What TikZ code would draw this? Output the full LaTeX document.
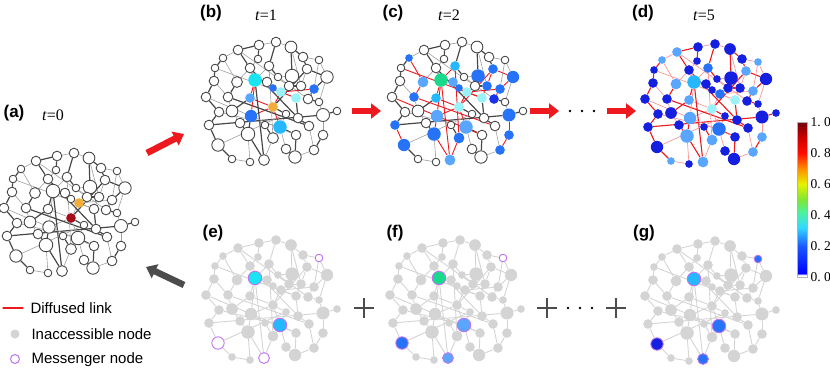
\documentclass[tikz,border=0pt]{standalone}
\usepackage{fontspec}
\setmainfont{Liberation Serif}
\setsansfont{Liberation Sans}
\usetikzlibrary{arrows.meta}
\pgfdeclarelayer{links}
\pgfsetlayers{links,main}

\definecolor{srcred}{rgb}{0.65,0.05,0.1}
\definecolor{vorange}{rgb}{0.95,0.68,0.22}
\definecolor{vcyan}{rgb}{0.1,0.9,0.95}
\definecolor{vlcyan}{rgb}{0.6,0.95,0.97}
\definecolor{vteal}{rgb}{0.1,0.85,0.55}
\definecolor{vsky}{rgb}{0.15,0.72,1.}
\definecolor{vlblue}{rgb}{0.35,0.65,1.}
\definecolor{vblue}{rgb}{0.15,0.45,0.97}
\definecolor{vdblue}{rgb}{0.1,0.2,0.92}
\definecolor{vdeep}{rgb}{0.08,0.12,0.88}
\definecolor{diffred}{rgb}{0.93,0.1,0.12}
\definecolor{msgviolet}{rgb}{0.75,0.45,0.95}
\definecolor{blocked}{rgb}{0.83,0.83,0.83}
\definecolor{linkgray}{rgb}{0.28,0.28,0.28}
\definecolor{arrowgray}{rgb}{0.3,0.3,0.3}

\pgfdeclareverticalshading{jetbar}{100bp}{rgb(0bp)=(1,1,1); rgb(25bp)=(1,1,1); rgb(25.6bp)=(1,1,1);
  rgb(26.2bp)=(0,0,1); rgb(35bp)=(0.1,0.35,1); rgb(41bp)=(0.2,0.85,1); rgb(46bp)=(0.3,0.95,0.6);
  rgb(50bp)=(0.5,0.9,0.2); rgb(55bp)=(0.9,0.95,0); rgb(60bp)=(1,0.55,0); rgb(65bp)=(1,0.05,0);
  rgb(70bp)=(0.8,0,0); rgb(75bp)=(0.45,0,0.05); rgb(100bp)=(0.45,0,0.05)}

% network: id/x/y/radius, relative to panel centre (px)
\def\netnodes{1/-12/-59/4.3, 2/5/-62/4.3, 3/20/-57/5.2, 4/-33/-54/4.3, 5/-48/-46/3.4,
  6/-13/-45/3.4, 7/-2/-38/4.3, 8/32/-47/4.3, 9/48/-44/3.4, 10/-56/-36/3.4, 11/-21/-36/4.3,
  12/36/-35/4.3, 13/21/-28/6, 14/7/-27/3.4, 15/56/-27/5.5, 16/-57/-23/4.3, 17/-34/-22/4.8,
  18/-16/-24/6, 19/-4/-22/4.3, 20/18/-18/4.3, 21/30/-18/4.3, 22/43/-15/4.3, 23/2/-16/3.4,
  24/10/-12/4.3, 25/-65/-7/4.3, 26/-43/-7/4.3, 27/-21/-6/4.3, 28/25/-6/4.3, 29/37/-5/4.3,
  30/48/-2/3.4, 31/2/3/4.3, 32/-52/8/4.3, 33/-39/7/5.2, 34/-20/12/5.5, 35/15/10/3.4,
  36/27/14/4.3, 37/52/11/5.8, 38/66/7/3.4, 39/-62/21/4.3, 40/-31/19/4.3, 41/-6/21/3.4,
  42/9/23/6, 43/38/22/4.3, 44/-23/30/6, 45/2/34/4.8, 46/25/31/4.3, 47/52/31/4.3,
  48/-53/41/5.5, 49/15/45/4.3, 50/43/46/4.3, 51/-39/55/3.4, 52/-21/58/3.4, 53/-7/56/4.8,
  54/24/53/5.5}
% links: from/to/kind (h = heavy, l = light)
\def\netedges{1/2/l, 1/4/h, 1/6/h, 2/3/l, 2/7/h, 3/8/h, 3/13/h, 4/5/l, 4/11/h, 5/10/h,
  5/17/l, 6/11/l, 7/14/h, 7/18/l, 8/9/l, 8/12/h, 9/15/l, 10/16/h, 11/18/h, 11/17/l,
  12/15/h, 12/21/l, 13/20/h, 13/14/l, 15/22/h, 15/30/l, 16/25/h, 16/26/l, 17/26/h,
  18/27/h, 18/19/l, 19/23/h, 20/24/l, 20/21/h, 21/28/l, 22/29/h, 23/24/l, 24/31/l,
  25/32/h, 26/33/l, 27/33/h, 27/31/l, 28/36/h, 29/30/h, 30/37/l, 31/35/h, 31/34/l,
  32/39/h, 33/40/l, 34/44/h, 34/41/l, 35/42/l, 36/43/h, 37/38/h, 37/47/l, 39/48/h,
  40/44/h, 41/45/h, 42/46/h, 42/49/l, 43/50/l, 44/52/l, 44/53/h, 45/53/l, 46/54/h,
  47/50/h, 48/51/h, 49/54/l, 50/54/l, 51/52/l, 39/37/h, 26/43/h, 18/53/h, 11/36/h,
  32/42/l, 10/28/l, 4/20/l, 7/45/l, 25/46/l, 48/35/l, 12/31/h, 3/21/l, 9/22/l, 14/29/l,
  24/28/l, 22/24/l, 18/34/l, 31/42/l}

\newcommand{\setcolours}[2]{%
  \foreach \i/\c in {#2}{\expandafter\xdef\csname nc#1-\i\endcsname{\c}}}
\newcommand{\setdiffused}[2]{%
  \foreach \i/\j in {#2}{\expandafter\gdef\csname dl#1-\i-\j\endcsname{}}}
\newcommand{\drawnet}[1]{%
  \foreach \i/\x/\y/\r in \netnodes {%
    \ifcsname nc#1-\i\endcsname
      \edef\fillc{\csname nc#1-\i\endcsname}%
      \node[colnode, minimum size=2.25*\r, fill=\fillc] (#1\i) at (\x,\y) {};
    \else
      \node[plainnode, minimum size=2.25*\r] (#1\i) at (\x,\y) {};
    \fi
  }
  \begin{pgfonlayer}{links}
    \foreach \i/\j/\w in \netedges {%
      \ifcsname dl#1-\i-\j\endcsname
        \draw[difflink] (#1\i) -- (#1\j);
      \else
        \draw[link\w] (#1\i) -- (#1\j);
      \fi
    }
  \end{pgfonlayer}
}

\setcolours{a}{24/vorange, 31/srcred}
\setcolours{b}{18/vcyan, 23/vblue, 24/vlcyan, 22/vblue, 27/vlblue, 28/vlcyan, 31/vorange, 34/vblue, 42/vsky}
\setdiffused{b}{18/27, 27/31, 31/34, 24/31, 23/24, 24/28, 22/24, 18/34, 31/42}
\setcolours{c}{5/vblue, 7/vsky, 12/vblue, 13/vblue, 15/vblue, 17/vlblue, 18/vteal, 19/vlblue,
  21/vblue, 22/vblue, 23/vblue, 24/vlcyan, 26/vblue, 27/vsky, 28/vlcyan, 29/vdblue, 31/vlcyan,
  34/vlblue, 37/vblue, 39/vblue, 42/vlblue, 44/vblue, 45/vblue, 47/vblue, 48/vblue, 50/vblue, 53/vlblue}
\setdiffused{c}{5/17, 7/18, 12/15, 12/21, 15/22, 17/26, 18/27, 18/19, 19/23, 21/28, 22/29,
  23/24, 24/31, 27/31, 31/34, 34/44, 37/47, 39/48, 44/53, 45/53, 47/50, 18/53, 7/45, 12/31,
  24/28, 22/24, 18/34, 31/42, 26/43, 10/28, 25/46}
\setcolours{d}{31/vlcyan, 28/vlcyan, 18/vsky, 17/vlblue, 27/vlblue, 34/vlblue, 44/vlblue, 42/vblue,
  45/vlblue, 24/vblue, 22/vlblue, 12/vlblue, 9/vlblue, 4/vlblue, 5/vlblue, 47/vlblue, 50/vlblue,
  53/vlblue, 51/vlblue, 7/vblue}
\setcolours{e}{18/vcyan, 42/vsky, 9/white, 48/white, 53/white}
\setcolours{f}{18/vteal, 42/vlblue, 48/vblue, 53/vlblue, 9/white}
\setcolours{g}{18/vsky, 42/vblue, 48/vdeep, 53/vblue, 9/vblue}

\begin{document}
\begin{tikzpicture}[x=1pt,y=-1pt,line cap=round,line join=round,
    plainnode/.style={circle,inner sep=0pt,draw=linkgray,line width=0.9pt,fill=white},
    colnode/.style={circle,inner sep=0pt,draw=none},
    linkh/.style={draw=linkgray,line width=1.2pt},
    linkl/.style={draw=gray!75,line width=0.6pt},
    difflink/.style={draw=diffred,line width=0.9pt},
    allred/.style={plainnode/.style={circle,inner sep=0pt,draw=none,fill=vdeep},
      linkh/.style={draw=diffred,line width=1.1pt},
      linkl/.style={draw=diffred!45,line width=0.7pt}},
    blockednet/.style={plainnode/.style={circle,inner sep=0pt,draw=none,fill=blocked},
      colnode/.style={circle,inner sep=0pt,draw=msgviolet,line width=0.9pt},
      linkh/.style={draw=blocked,line width=0.9pt},
      linkl/.style={draw=blocked,line width=0.9pt}},
    panel/.style={font=\sffamily\bfseries\fontsize{17pt}{20pt}\selectfont},
    tstep/.style={font=\fontsize{16pt}{19pt}\selectfont},
    bigarrow/.style={line width=6.5pt,line cap=butt,-{Triangle[length=10pt,width=15pt]}},
    legendtext/.style={anchor=west,font=\sffamily\fontsize{15pt}{18pt}\selectfont},
    barlabel/.style={anchor=west,font=\fontsize{13.5pt}{15pt}\selectfont},
    plussign/.pic={\draw[line width=1.3pt,black!70,line cap=butt] (-10,0) -- (10,0) (0,-10) -- (0,10);}]
\useasboundingbox (0,0) rectangle (830,368);

% panels
\begin{scope}[shift={(69,215)}] \drawnet{a} \end{scope}
\begin{scope}[shift={(271,104)}] \drawnet{b} \end{scope}
\begin{scope}[shift={(457,104)}] \drawnet{c} \end{scope}
\begin{scope}[shift={(710,106)},allred] \drawnet{d} \end{scope}
\begin{scope}[shift={(271,302)},blockednet] \drawnet{e} \end{scope}
\begin{scope}[shift={(455,302)},blockednet] \drawnet{f} \end{scope}
\begin{scope}[shift={(710,303)},blockednet] \drawnet{g} \end{scope}

\node[panel] (pa) at (14,113) {(a)};
\node[tstep] (ta) at (53,115) {\textit{t}=0};
\node[panel] (pb) at (211,13) {(b)};
\node[tstep] (tb) at (266,15) {\textit{t}=1};
\node[panel] (pc) at (393,13) {(c)};
\node[tstep] (tc) at (449,15) {\textit{t}=2};
\node[panel] (pd) at (643,13) {(d)};
\node[tstep] (td) at (704,15) {\textit{t}=5};
\node[panel] (pe) at (213,233) {(e)};
\node[panel] (pf) at (395,233) {(f)};
\node[panel] (pg) at (644,233) {(g)};

% arrows between panels
\coordinate (ab0) at (147,153); \coordinate (ab1) at (184,134);
\coordinate (bc0) at (352,111); \coordinate (bc1) at (381,111);
\coordinate (cd0) at (530,111); \coordinate (cd1) at (559,111);
\coordinate (dd0) at (607,111); \coordinate (dd1) at (636,111);
\coordinate (ea0) at (184,285); \coordinate (ea1) at (146,267);
\draw[bigarrow,diffred] (ab0) -- (ab1);
\draw[bigarrow,diffred] (bc0) -- (bc1);
\draw[bigarrow,diffred] (cd0) -- (cd1);
\draw[bigarrow,diffred] (dd0) -- (dd1);
\draw[bigarrow,arrowgray] (ea0) -- (ea1);
\foreach \x in {570,582,594} \fill (\x,111) circle (1.3);
\foreach \x in {568,580,592} \fill (\x,308) circle (1.3);
\pic at (364,308) {plussign};
\pic at (547,308) {plussign};
\pic at (616,308) {plussign};

% legend
\coordinate (lg0) at (3,308); \coordinate (lg1) at (23,308);
\draw[diffred,line width=1.3pt] (lg0) -- (lg1);
\node[legendtext] (lgd) at (27,308) {Diffused link};
\node[circle,inner sep=0pt,minimum size=9pt,fill=blocked] (lgi0) at (15,334) {};
\node[legendtext] (lgi) at (28,334) {Inaccessible node};
\node[circle,inner sep=0pt,minimum size=9pt,draw=msgviolet,line width=1pt] (lgm0) at (15,359) {};
\node[legendtext] (lgm) at (28,360) {Messenger node};

% colour bar
\shadedraw[shading=jetbar,draw=gray!60,line width=0.6pt] (797,122) rectangle (807,277);
\node[barlabel] (b10) at (807,122) {1.\ 0};
\node[barlabel] (b08) at (807,153) {0.\ 8};
\node[barlabel] (b06) at (807,184) {0.\ 6};
\node[barlabel] (b04) at (807,215) {0.\ 4};
\node[barlabel] (b02) at (807,246) {0.\ 2};
\node[barlabel] (b00) at (807,277) {0.\ 0};
\end{tikzpicture}
\end{document}
